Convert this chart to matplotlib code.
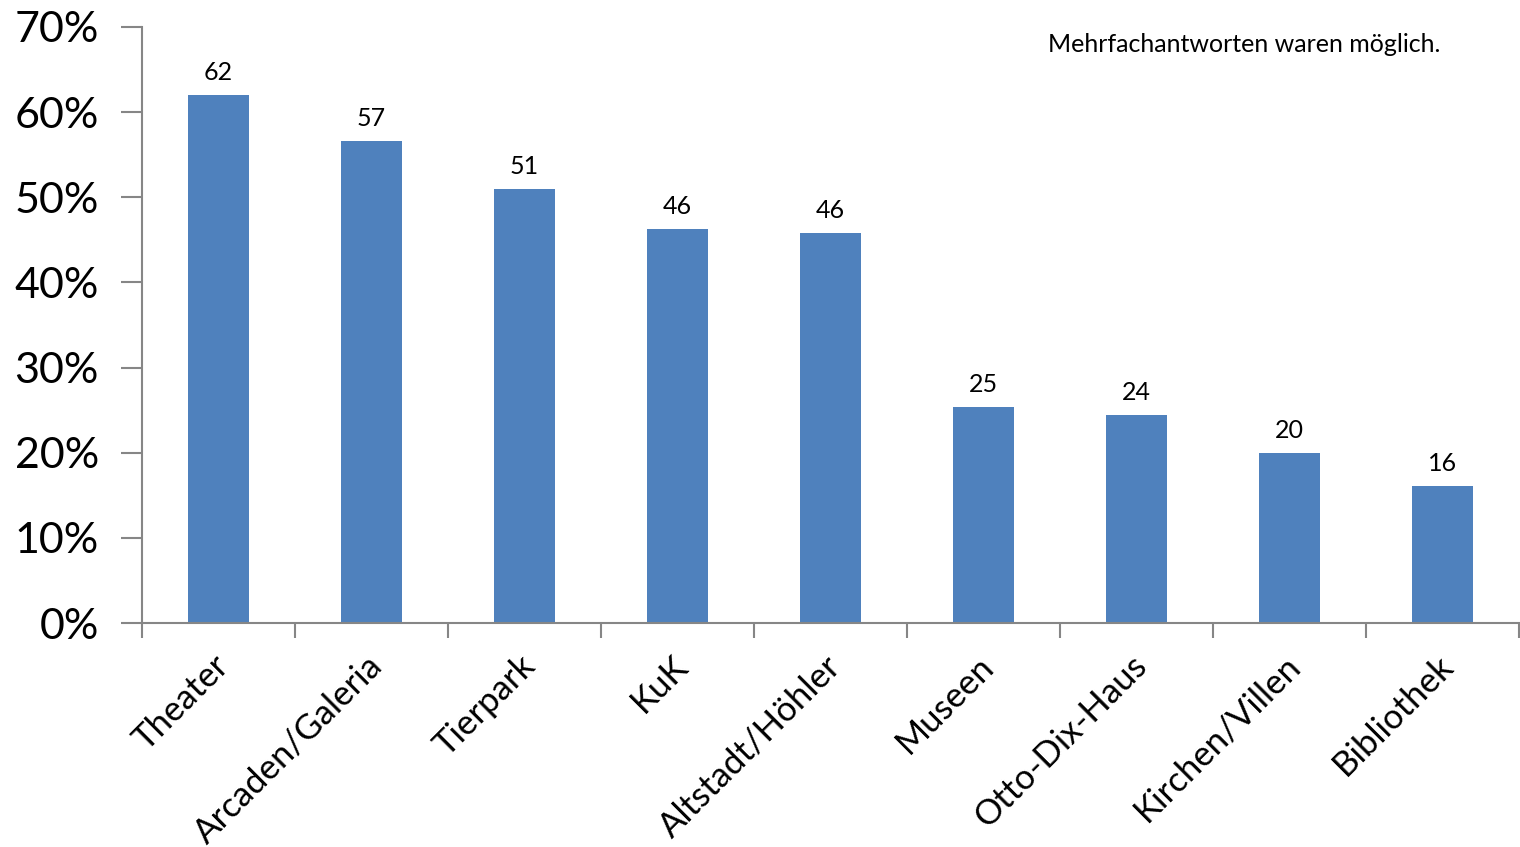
import matplotlib
matplotlib.use('Agg')
import matplotlib.pyplot as plt
import matplotlib.transforms as mtransforms
from matplotlib.ticker import FuncFormatter

plt.rcParams['font.family'] = ['Lato', 'DejaVu Sans']

categories = ['Theater', 'Arcaden/Galeria', 'Tierpark', 'KuK', 'Altstadt/Höhler',
              'Museen', 'Otto-Dix-Haus', 'Kirchen/Villen', 'Bibliothek']
values = [62.0, 56.6, 51.0, 46.3, 45.8, 25.4, 24.4, 20.0, 16.1]
labels = ['62', '57', '51', '46', '46', '25', '24', '20', '16']
note = 'Mehrfachantworten waren möglich.'

bar_color = '#4F81BD'
axis_color = '#868686'

fig = plt.figure(figsize=(15.2, 8.47), dpi=100)
ax = fig.add_axes([142 / 1520, 1 - 623 / 847, 1377 / 1520, 596 / 847])

x = list(range(len(categories)))
ax.bar(x, values, width=0.4, color=bar_color, zorder=2)

for xi, v, lab in zip(x, values, labels):
    ax.annotate(lab, (xi, v), xytext=(0, 8), textcoords='offset points',
                ha='center', va='bottom', fontsize=18, color='black')

ax.set_xlim(-0.5, len(categories) - 0.5)
ax.set_ylim(0, 70)
ax.set_yticks(range(0, 71, 10))
ax.yaxis.set_major_formatter(FuncFormatter(lambda v, p: f'{int(v)}%'))

# category boundaries carry the x ticks, labels sit at the bar centres
ax.set_xticks([i - 0.5 for i in range(len(categories) + 1)])
ax.set_xticklabels([])
ax.set_xticks(x, minor=True)
ax.set_xticklabels(categories, minor=True, rotation=45, ha='right',
                   rotation_mode='anchor', fontsize=25)
ax.tick_params(axis='x', which='minor', length=0, pad=19)
ax.tick_params(axis='x', which='major', length=11, width=1.5, color=axis_color)
ax.tick_params(axis='y', length=15, width=1.5, color=axis_color, labelsize=31, pad=16)

# nudge the rotated labels a little to the left
shift = mtransforms.ScaledTranslation(-6 / 100, 0, fig.dpi_scale_trans)
for lbl in ax.get_xticklabels(minor=True):
    lbl.set_transform(lbl.get_transform() + shift)

for side in ['top', 'right']:
    ax.spines[side].set_visible(False)
for side in ['left', 'bottom']:
    ax.spines[side].set_color(axis_color)
    ax.spines[side].set_linewidth(1.5)

fig.text(1048 / 1520, 1 - 45 / 847, note, ha='left', va='center', fontsize=18)

fig.savefig('out.png', dpi=100)
